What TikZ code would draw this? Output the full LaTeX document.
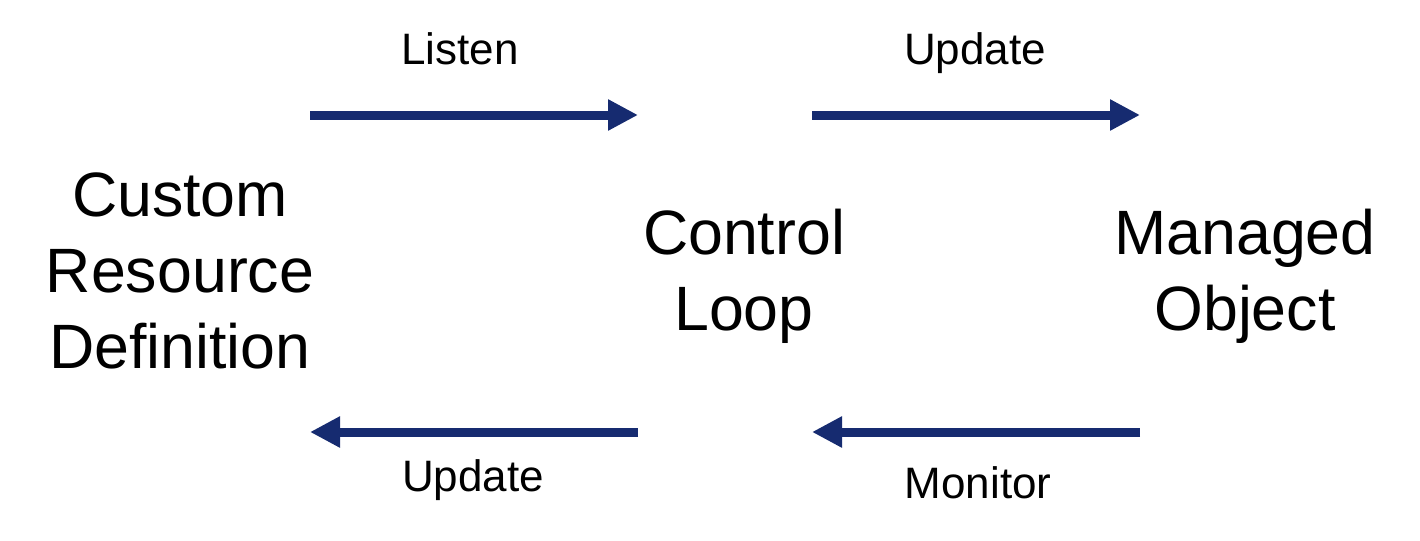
\documentclass[tikz,border=0pt]{standalone}
\usepackage{fontspec}
\setmainfont{Liberation Sans}
\usetikzlibrary{arrows.meta}

\definecolor{flowblue}{RGB}{22,43,112}
\tikzset{every picture/.style={line width=0.75pt}}
\tikzset{
  flow/.style={draw=flowblue, line width=6.75pt, -{Triangle[length=22.5pt,width=22pt]}},
  lbl/.style={anchor=base, inner sep=0pt, font=\fontsize{33}{40}\selectfont},
  big/.style={anchor=base, inner sep=0pt, align=center, font=\fontsize{47}{57}\selectfont}
}

\begin{document}
\begin{tikzpicture}[x=0.75pt,y=0.75pt,yscale=-1,xscale=1]
%set diagram size 1420 x 540
\useasboundingbox (0,0) rectangle (1420,540);

% Text Node (base = last line)
\node (crd) at (180,368) [big] {Custom\\Resource\\Definition};
% Text Node
\node (loop) at (744,330) [big] {Control\\Loop};
% Text Node
\node (obj) at (1245,330) [big] {Managed\\Object};

%Arrow ends
\coordinate (listenA) at (310,115);
\coordinate (listenB) at (638,115);
\coordinate (updA) at (812,115);
\coordinate (updB) at (1140,115);
\coordinate (backA) at (638,432);
\coordinate (backB) at (310,432);
\coordinate (monA) at (1140,432);
\coordinate (monB) at (812,432);

%Straight Lines
\draw [flow] (listenA) -- (listenB);
%Straight Lines
\draw [flow] (updA) -- (updB);
%Straight Lines
\draw [flow] (backA) -- (backB);
%Straight Lines
\draw [flow] (monA) -- (monB);

% Text Node
\node (listen) at (460,64) [lbl] {Listen};
% Text Node
\node (updtop) at (975,64) [lbl] {Update};
% Text Node
\node (updbot) at (473,491) [lbl] {Update};
% Text Node
\node (monitor) at (978,498) [lbl] {Monitor};

\end{tikzpicture}
\end{document}
